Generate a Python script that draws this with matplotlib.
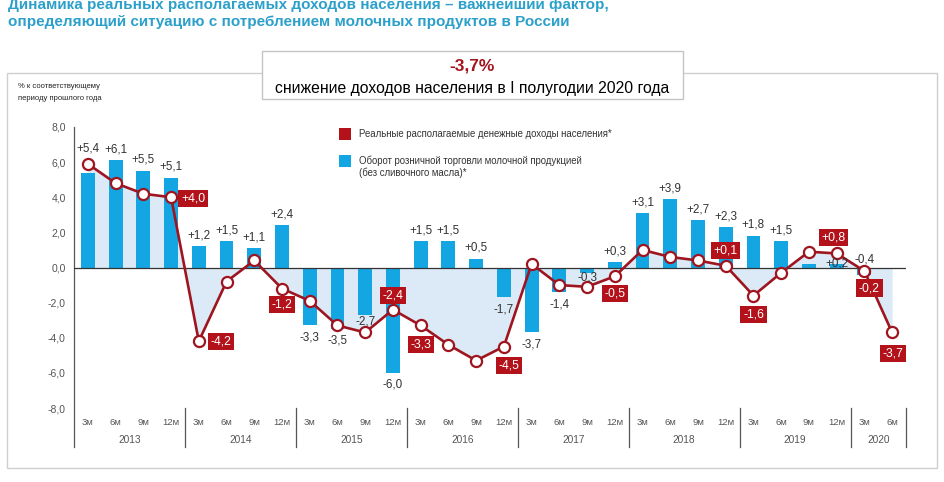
import numpy as np
import matplotlib.pyplot as plt
from matplotlib.patches import Rectangle

plt.rcParams['font.family'] = ['Liberation Sans', 'DejaVu Sans']

# periods: 2013 Q1 .. 2020 Q2
years = ['2013', '2014', '2015', '2016', '2017', '2018', '2019', '2020']
quarters = ['3м', '6м', '9м', '12м']
n_quarters = [4, 4, 4, 4, 4, 4, 4, 2]

# retail turnover of dairy products (bars), % y/y
dairy = [5.4, 6.1, 5.5, 5.1,
         1.2, 1.5, 1.1, 2.4,
         -3.3, -3.5, -2.7, -6.0,
         1.5, 1.5, 0.5, -1.7,
         -3.7, -1.4, -0.3, 0.3,
         3.1, 3.9, 2.7, 2.3,
         1.8, 1.5, 0.2, 0.2,
         -0.4, np.nan]

# real disposable income (line), % y/y
income = [5.9, 4.8, 4.2, 4.0,
          -4.2, -0.8, 0.4, -1.2,
          -1.9, -3.3, -3.7, -2.4,
          -3.3, -4.4, -5.3, -4.5,
          0.2, -1.0, -1.1, -0.5,
          1.0, 0.6, 0.4, 0.1,
          -1.6, -0.3, 0.9, 0.8,
          -0.2, -3.7]

# which line points get a red label
income_labeled = [3, 4, 7, 11, 12, 15, 19, 23, 24, 27, 28, 29]
yticks = [8, 6, 4, 2, 0, -2, -4, -6, -8]

# label offsets in pixels (dx, dy)
red_off = {3: (22, -1), 4: (22, 0), 7: (0, -16), 11: (0, 14), 12: (0, -19),
           15: (5, -19), 19: (0, -17), 23: (0, 15), 24: (0, -19),
           27: (-3, 16), 28: (5, -17), 29: (1, -21)}
bar_off = {0: 24, 10: -7, 18: -5, 27: 0, 28: 15}
bar_skip = [26, 29]

BLUE = '#14A6E2'
LINE = '#9E1520'
BOX = '#B3121A'
FILL = '#DCE9F6'
GREY = '#555555'


def fmt(v):
    return f'{v:+.1f}'.replace('.', ',')


W, H = 945, 482
fig = plt.figure(figsize=(W / 100, H / 100), dpi=100)


def fx(x):
    return x / W


def fy(y):
    return 1 - y / H


# panel frame and callout box
fig.patches.append(Rectangle((fx(7), fy(468)), fx(930), (468 - 73) / H,
                             transform=fig.transFigure, fill=False,
                             edgecolor='#cfcfcf', lw=1.0, zorder=0))
fig.patches.append(Rectangle((fx(262), fy(99)), fx(421), 48 / H,
                             transform=fig.transFigure, facecolor='white',
                             edgecolor='#c4c4c4', lw=1.0, zorder=1))
fig.text(fx(472), fy(66), '-3,7%', color='#A3141E', fontsize=12.5, fontweight='bold',
         ha='center', va='center', zorder=2)
fig.text(fx(472), fy(89), 'снижение доходов населения в I полугодии 2020 года',
         color='black', fontsize=11.3, ha='center', va='center', zorder=2)

# title (top part cut off in the original)
fig.text(fx(8), fy(5), 'Динамика реальных располагаемых доходов населения – важнейший фактор,',
         color='#2CA0CA', fontsize=11, fontweight='bold', va='center')
fig.text(fx(8), fy(22), 'определяющий ситуацию с потреблением молочных продуктов в России',
         color='#2CA0CA', fontsize=11, fontweight='bold', va='center')

fig.text(fx(18), fy(86), '% к соответствующему', fontsize=5.5, color='#222', va='center')
fig.text(fx(18), fy(98), 'периоду прошлого года', fontsize=5.5, color='#222', va='center')

ax = fig.add_axes([fx(74), fy(408), (906 - 74) / W, (408 - 127) / H])
x = np.arange(len(income))

ax.fill_between(x, income, 0, color=FILL, lw=0, zorder=1)
ax.bar(x, dairy, width=0.5, color=BLUE, zorder=2)
ax.axhline(0, color='#333333', lw=0.9, zorder=3)
ax.plot(x, income, color=LINE, lw=1.9, zorder=4, marker='o', ms=8,
        mfc='white', mec=LINE, mew=1.6)

for i, v in enumerate(dairy):
    if i in bar_skip or np.isnan(v):
        continue
    dy = bar_off.get(i, 11 if v >= 0 else -12)
    ax.annotate(fmt(v), (i, v), xytext=(0, dy), textcoords='offset pixels',
                ha='center', va='center', fontsize=8.4, color='#333333', zorder=5)

for i in income_labeled:
    dx, dy = red_off[i]
    ax.annotate(fmt(income[i]), (i, income[i]), xytext=(dx, dy), textcoords='offset pixels',
                ha='center', va='center', fontsize=8.8, color='white', zorder=6,
                bbox=dict(boxstyle='square,pad=0.22', fc=BOX, ec='none'))

ax.set_xlim(-0.5, len(income) - 0.5)
ax.set_ylim(-8, 8)
ax.set_yticks(yticks)
ax.set_yticklabels([f'{t:.1f}'.replace('.', ',') for t in yticks])
ax.tick_params(axis='y', length=0, pad=6, labelsize=7.5, labelcolor=GREY)
ax.set_xticks([])
for s in ax.spines.values():
    s.set_visible(False)

# y axis line and year separators
ax.plot([-0.5, -0.5], [8, -10.2], color=GREY, lw=0.9, clip_on=False)
pos = 0
for yr, nq in zip(years, n_quarters):
    for q in range(nq):
        ax.text(pos + q, -8.8, quarters[q], ha='center', va='center',
                fontsize=6.8, color=GREY)
    ax.text(pos + (nq - 1) / 2, -9.85, yr, ha='center', va='center',
            fontsize=7.3, color=GREY)
    pos += nq
    ax.plot([pos - 0.5, pos - 0.5], [-8, -10.2], color=GREY, lw=0.9, clip_on=False)

# legend
fig.patches.append(Rectangle((fx(339), fy(140)), 12 / W, 12 / H, transform=fig.transFigure,
                             facecolor=BOX, edgecolor='none'))
fig.text(fx(359), fy(134), 'Реальные располагаемые денежные доходы населения*',
         fontsize=6.9, color='#333333', va='center')
fig.patches.append(Rectangle((fx(339), fy(167)), 12 / W, 12 / H, transform=fig.transFigure,
                             facecolor=BLUE, edgecolor='none'))
fig.text(fx(359), fy(161), 'Оборот розничной торговли молочной продукцией',
         fontsize=6.9, color='#333333', va='center')
fig.text(fx(359), fy(173), '(без сливочного масла)*',
         fontsize=6.9, color='#333333', va='center')

fig.savefig('out.png', dpi=100)
